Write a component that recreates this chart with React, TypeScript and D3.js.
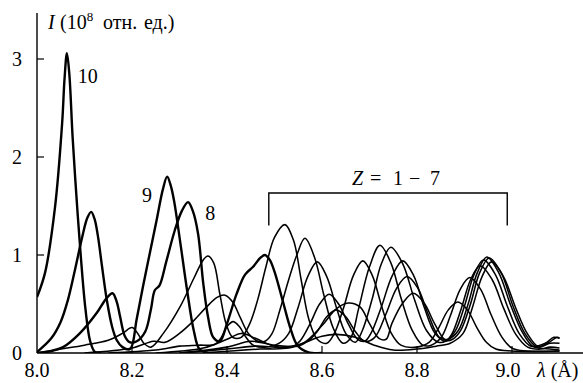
import React from 'react';
import * as d3 from 'd3';

const W = 583;
const H = 383;

const xTicks = [8.0, 8.2, 8.4, 8.6, 8.8, 9.0];
const xTickLabels = ['8.0', '8.2', '8.4', '8.6', '8.8', '9.0'];
const yTicks = [0, 1, 2, 3];
const yTickLabels = ['0', '1', '2', '3'];

// Thick curves (Z = 10, 9, 8): [λ (Å), I (10^8 rel. units)]
const z10 = [[8.000,0.57],[8.017,0.82],[8.038,1.49],[8.053,2.35],[8.058,2.8],[8.063,3.06],[8.068,2.85],[8.075,2.2],[8.083,1.6],[8.092,1.0],[8.102,0.45],[8.112,0.12],[8.122,0.01],[8.135,0.0]];
const z9 = [[8.000,0.01],[8.030,0.15],[8.050,0.32],[8.065,0.54],[8.080,0.85],[8.095,1.18],[8.106,1.38],[8.114,1.44],[8.121,1.37],[8.128,1.2],[8.137,0.88],[8.147,0.54],[8.158,0.27],[8.168,0.13],[8.180,0.06],[8.196,0.04],[8.210,0.35],[8.224,0.70],[8.238,1.03],[8.252,1.36],[8.265,1.67],[8.274,1.80],[8.282,1.70],[8.289,1.54],[8.301,1.15],[8.316,0.64],[8.330,0.23],[8.342,0.04],[8.360,0.0]];
const z8 = [[8.000,0.0],[8.030,0.02],[8.055,0.06],[8.090,0.20],[8.126,0.41],[8.145,0.55],[8.159,0.61],[8.168,0.52],[8.175,0.37],[8.185,0.17],[8.195,0.11],[8.210,0.12],[8.228,0.22],[8.240,0.45],[8.248,0.64],[8.258,0.69],[8.272,0.93],[8.290,1.25],[8.305,1.45],[8.318,1.54],[8.328,1.45],[8.339,1.22],[8.350,0.71],[8.360,0.37],[8.371,0.16],[8.385,0.12],[8.400,0.30],[8.420,0.60],[8.438,0.80],[8.455,0.88],[8.470,0.97],[8.480,1.00],[8.490,0.95],[8.500,0.83],[8.518,0.52],[8.533,0.26],[8.548,0.08],[8.570,0.01],[8.600,0.0]];

// Thin curves (Z = 1 - 7)
const z7 = [[8.000,0.0],[8.050,0.04],[8.100,0.08],[8.150,0.13],[8.180,0.2],[8.200,0.26],[8.212,0.2],[8.225,0.1],[8.240,0.06],[8.266,0.2],[8.301,0.47],[8.330,0.76],[8.350,0.95],[8.360,0.99],[8.372,0.92],[8.385,0.6],[8.398,0.3],[8.412,0.16],[8.430,0.16],[8.448,0.30],[8.465,0.55],[8.482,0.88],[8.500,1.18],[8.522,1.31],[8.540,1.15],[8.556,0.75],[8.572,0.35],[8.590,0.14],[8.610,0.10],[8.626,0.2],[8.646,0.47],[8.666,0.79],[8.686,0.94],[8.706,0.79],[8.726,0.47],[8.746,0.2],[8.766,0.08],[8.800,0.06],[8.826,0.11],[8.846,0.26],[8.866,0.44],[8.886,0.52],[8.906,0.44],[8.926,0.26],[8.946,0.11],[8.966,0.04],[9.000,0.02],[9.100,0.02]];
const z6 = [[8.100,0.0],[8.200,0.05],[8.245,0.12],[8.270,0.11],[8.300,0.2],[8.330,0.33],[8.355,0.46],[8.380,0.57],[8.396,0.59],[8.412,0.52],[8.428,0.36],[8.445,0.2],[8.465,0.12],[8.480,0.12],[8.495,0.2],[8.512,0.45],[8.530,0.75],[8.547,1.0],[8.564,1.17],[8.584,0.98],[8.604,0.59],[8.624,0.25],[8.644,0.1],[8.660,0.15],[8.677,0.45],[8.700,0.88],[8.722,1.10],[8.745,0.92],[8.767,0.55],[8.790,0.23],[8.812,0.08],[8.830,0.08],[8.851,0.16],[8.871,0.39],[8.891,0.65],[8.911,0.77],[8.934,0.65],[8.956,0.39],[8.979,0.16],[9.000,0.05],[9.030,0.02],[9.100,0.02]];
const z5 = [[8.150,0.0],[8.250,0.03],[8.300,0.07],[8.340,0.08],[8.375,0.09],[8.388,0.16],[8.400,0.27],[8.413,0.32],[8.426,0.27],[8.440,0.16],[8.455,0.08],[8.480,0.06],[8.510,0.1],[8.530,0.2],[8.550,0.47],[8.570,0.78],[8.590,0.93],[8.610,0.78],[8.630,0.47],[8.650,0.2],[8.670,0.11],[8.685,0.23],[8.705,0.54],[8.725,0.91],[8.745,1.08],[8.770,0.91],[8.795,0.54],[8.820,0.23],[8.845,0.11],[8.860,0.12],[8.873,0.19],[8.893,0.45],[8.913,0.75],[8.933,0.89],[8.958,0.75],[8.983,0.45],[9.008,0.19],[9.033,0.06],[9.060,0.04],[9.080,0.06],[9.100,0.05]];
const z4 = [[8.250,0.0],[8.350,0.05],[8.400,0.14],[8.430,0.20],[8.460,0.15],[8.500,0.07],[8.540,0.07],[8.555,0.13],[8.575,0.3],[8.595,0.5],[8.615,0.6],[8.635,0.5],[8.655,0.3],[8.675,0.14],[8.690,0.12],[8.703,0.2],[8.725,0.47],[8.748,0.79],[8.770,0.94],[8.793,0.79],[8.815,0.47],[8.838,0.2],[8.860,0.12],[8.880,0.22],[8.900,0.48],[8.920,0.8],[8.940,0.95],[8.965,0.8],[8.990,0.48],[9.015,0.2],[9.040,0.07],[9.070,0.1],[9.088,0.16],[9.100,0.15]];
const z3 = [[8.300,0.0],[8.400,0.06],[8.450,0.12],[8.500,0.08],[8.550,0.07],[8.570,0.12],[8.590,0.22],[8.610,0.37],[8.630,0.44],[8.650,0.37],[8.670,0.22],[8.690,0.12],[8.711,0.16],[8.734,0.39],[8.757,0.66],[8.779,0.78],[8.802,0.66],[8.824,0.39],[8.847,0.16],[8.865,0.14],[8.887,0.23],[8.907,0.49],[8.927,0.82],[8.947,0.98],[8.972,0.82],[8.997,0.49],[9.022,0.21],[9.047,0.06],[9.075,0.1],[9.095,0.16],[9.100,0.15]];
const z2 = [[8.300,0.0],[8.400,0.04],[8.460,0.07],[8.520,0.06],[8.560,0.1],[8.600,0.28],[8.630,0.45],[8.655,0.51],[8.680,0.47],[8.700,0.3],[8.720,0.15],[8.735,0.14],[8.747,0.3],[8.770,0.51],[8.792,0.61],[8.815,0.51],[8.837,0.3],[8.860,0.13],[8.875,0.14],[8.892,0.23],[8.912,0.49],[8.932,0.82],[8.952,0.97],[8.977,0.82],[9.002,0.48],[9.027,0.2],[9.052,0.06],[9.080,0.04],[9.100,0.03]];
const z1 = [[8.350,0.0],[8.470,0.04],[8.530,0.05],[8.560,0.1],[8.600,0.17],[8.630,0.19],[8.670,0.16],[8.710,0.08],[8.750,0.03],[8.800,0.04],[8.840,0.07],[8.870,0.1],[8.897,0.2],[8.917,0.47],[8.937,0.78],[8.957,0.93],[8.982,0.78],[9.007,0.47],[9.032,0.2],[9.057,0.06],[9.080,0.1],[9.100,0.1]];

const thickCurves = [z10, z9, z8];
const thinCurves = [z7, z6, z5, z4, z3, z2, z1];

// curve labels: [text, λ, I]
const curveLabels = [['10', 8.086, 2.755], ['9', 8.221, 1.541], ['8', 8.354, 1.357]];
const bracketRange = [8.488, 8.99];
const bracketLevels = [1.3, 1.633];

const FONT = 'Liberation Serif';

export default function App() {
  const x = d3.scaleLinear().domain([8, 9]).range([37, 512]);
  const y = d3.scaleLinear().domain([0, 3]).range([353, 59]);
  const line = d3
    .line<number[]>()
    .x((d) => x(d[0]))
    .y((d) => y(d[1]))
    .curve(d3.curveCatmullRom.alpha(0.5));

  const x0 = x(8);
  const y0 = y(0);

  return (
    <svg
      width={W}
      height={H}
      viewBox={`0 0 ${W} ${H}`}
      style={{ position: 'absolute', left: 0, top: 0, background: '#fff' }}
    >
      <defs>
        <clipPath id="plotclip">
          <rect x={x0} y={0} width={W - x0} height={y0} />
        </clipPath>
      </defs>
      <rect x={0} y={0} width={W} height={H} fill="#fff" />
      <g clipPath="url(#plotclip)">
        {thinCurves.map((c, i) => (
          <path key={'t' + i} d={line(c as any) || ''} fill="none" stroke="#000" strokeWidth={1.55} strokeLinejoin="round" />
        ))}
        {thickCurves.map((c, i) => (
          <path key={'k' + i} d={line(c as any) || ''} fill="none" stroke="#000" strokeWidth={2.4} strokeLinejoin="round" />
        ))}
      </g>

      {/* axes */}
      <line x1={x0} y1={y(3.47)} x2={x0} y2={y0} stroke="#000" strokeWidth={1.4} />
      <line x1={x0} y1={y0} x2={W} y2={y0} stroke="#000" strokeWidth={1.4} />
      {yTicks.map((v, i) => (
        <g key={'yt' + i}>
          {v !== 0 && <line x1={x0} x2={x0 + 7} y1={y(v)} y2={y(v)} stroke="#000" strokeWidth={1.2} />}
          <text x={22} y={y(v) + 7} textAnchor="end" fontSize={20} fontFamily={FONT}>
            {yTickLabels[i]}
          </text>
        </g>
      ))}
      {xTicks.map((v, i) => (
        <g key={'xt' + i}>
          {i !== 0 && <line x1={x(v)} x2={x(v)} y1={y0} y2={y0 - 7} stroke="#000" strokeWidth={1.2} />}
          <text x={x(v) - (i === xTicks.length - 1 ? 4 : 0)} y={377} textAnchor="middle" fontSize={20} fontFamily={FONT}>
            {xTickLabels[i]}
          </text>
        </g>
      ))}

      {/* axis titles */}
      <text y={29} fontSize={20} fontFamily={FONT}>
        <tspan x={48} fontStyle="italic">I</tspan>
        <tspan x={60}>(10</tspan>
        <tspan dy={-8} fontSize={13}>8</tspan>
        <tspan x={103} dy={8}>отн.</tspan>
        <tspan x={144}>ед.)</tspan>
      </text>
      <text x={537} y={377} fontSize={20} fontFamily={FONT}>
        <tspan fontStyle="italic">λ</tspan>
        <tspan>{' (Å)'}</tspan>
      </text>

      {/* curve labels */}
      {curveLabels.map((l, i) => (
        <text key={'cl' + i} x={x(l[1] as number)} y={y(l[2] as number)} fontSize={20} fontFamily={FONT}>
          {l[0]}
        </text>
      ))}

      {/* bracket */}
      <path
        d={`M${x(bracketRange[0])},${y(bracketLevels[0])}V${y(bracketLevels[1])}H${x(bracketRange[1])}V${y(bracketLevels[0])}`}
        fill="none"
        stroke="#000"
        strokeWidth={1.4}
      />
      <text y={185} fontSize={20} fontFamily={FONT}>
        <tspan x={352} fontStyle="italic">Z</tspan>
        <tspan x={370}>=</tspan>
        <tspan x={393}>1</tspan>
        <tspan x={409}>{'\u2212'}</tspan>
        <tspan x={430}>7</tspan>
      </text>
    </svg>
  );
}
